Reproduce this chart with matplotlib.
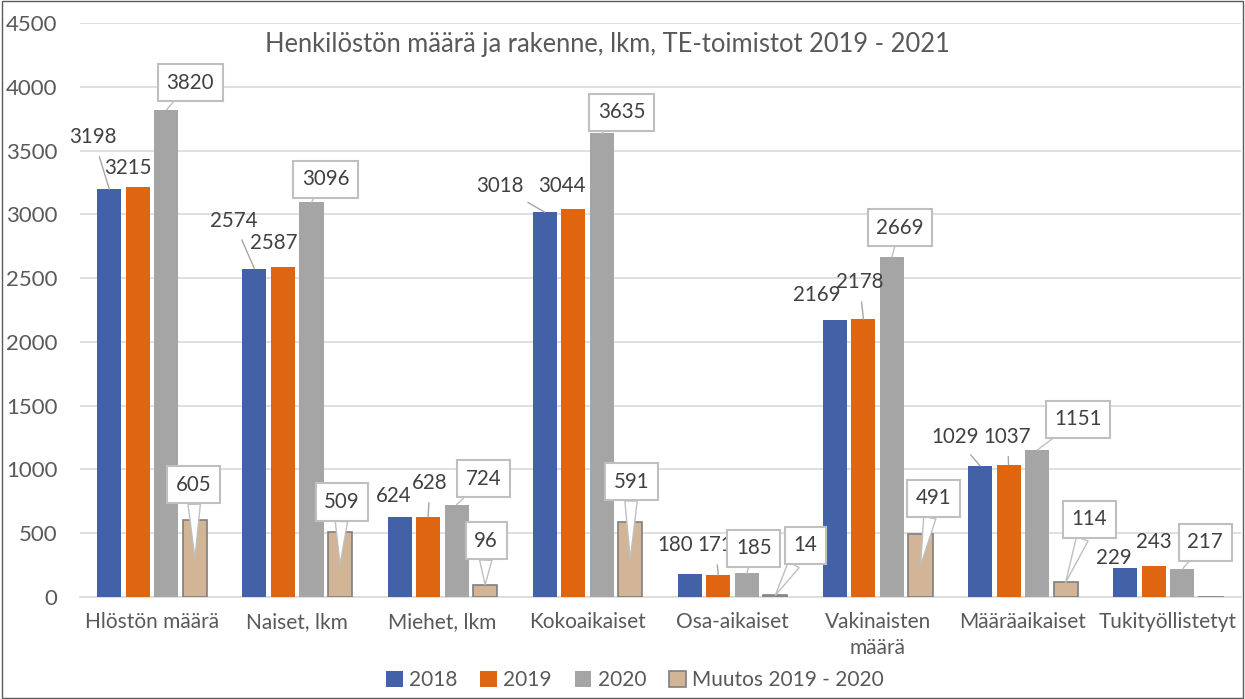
import numpy as np
import matplotlib.pyplot as plt
from matplotlib.patches import Rectangle

plt.rcParams['font.family'] = ['Lato', 'DejaVu Sans']

categories = ['Hlöstön määrä', 'Naiset, lkm', 'Miehet, lkm', 'Kokoaikaiset',
              'Osa-aikaiset', 'Vakinaisten\nmäärä', 'Määräaikaiset', 'Tukityöllistetyt']
v2018 = [3198, 2574, 624, 3018, 180, 2169, 1029, 229]
v2019 = [3215, 2587, 628, 3044, 171, 2178, 1037, 243]
v2020 = [3820, 3096, 724, 3635, 185, 2669, 1151, 217]
muutos = [605, 509, 96, 591, 14, 491, 114, -26]
series_names = ['2018', '2019', '2020', 'Muutos 2019 - 2020']

colors = ['#4361a6', '#df6510', '#a5a5a5', '#d2b496']
edges = ['none', 'none', 'none', '#7f7f7f']
txt = '#404040'

# label offsets in pixels from bar top (dx, dy upward positive)
off18 = [(-16, 52), (-21, 48), (-6, 21), (-45, 26), (-15, 29), (-18, 25), (-25, 29), (-11, 10)]
line18 = [True, True, False, True, False, False, True, False]
off19 = [(-10, 19), (-9, 24), (2, 34), (-11, 23), (-3, 30), (-4, 37), (-1, 28), (0, 24)]
line19 = [False, False, True, False, True, True, True, False]
off20 = [(24, 27), (14, 23), (27, 26), (20, 21), (7, 25), (8, 29), (41, 31), (23, 27)]
offm = [(-1, 35), (2, 30), (1, 44), (1, 40), (30, 50), (13, 36), (24, 63), None]
mid_point = [True, True, False, True, False, True, False, False]

fig = plt.figure(figsize=(12.45, 6.99), dpi=100)
ax = fig.add_axes([0.0639, 0.1459, 0.9325, 0.821])

x = np.arange(len(categories))
pitch = 0.1966
width = 0.166
all_vals = [v2018, v2019, v2020, muutos]
for k, vals in enumerate(all_vals):
    ax.bar(x + (k - 1.5) * pitch, vals, width, color=colors[k], edgecolor=edges[k],
           linewidth=1.2 if k == 3 else 0, label=series_names[k], zorder=3)

ax.set_xlim(-0.5, len(categories) - 0.5)
ax.set_ylim(0, 4500)
ax.set_yticks(np.arange(0, 4501, 500))
ax.grid(axis='y', color='#d9d9d9', linewidth=1.2, zorder=0)
for s in ['left', 'right', 'top']:
    ax.spines[s].set_visible(False)
ax.spines['bottom'].set_color('#d9d9d9')
ax.spines['bottom'].set_linewidth(1.2)
ax.tick_params(axis='both', length=0, labelcolor='#595959')
ax.tick_params(axis='y', pad=16, labelsize=16)
ax.tick_params(axis='x', pad=11, labelsize=15)
ax.set_xticks(x)
ax.set_xticklabels(categories, linespacing=1.35)

to_pt = 72 / 100.0
lab_size = 14.8

def plain(xp, v, off, line):
    ax.annotate(str(v), (xp, v), xytext=(off[0] * to_pt, off[1] * to_pt),
                textcoords='offset points', ha='center', va='center',
                fontsize=lab_size, color=txt, zorder=5,
                arrowprops=dict(arrowstyle='-', color='#a6a6a6', lw=1,
                                shrinkA=5, shrinkB=0) if line else None)

def boxed(xp, v, target, off, wedge):
    ap = dict(arrowstyle='wedge,tail_width=0.6', fc='white', ec='#bfbfbf', lw=1,
              shrinkA=0, shrinkB=0) if wedge else \
         dict(arrowstyle='-', color='#bfbfbf', lw=1, shrinkA=0, shrinkB=0)
    ax.annotate(str(v), (xp, target), xytext=(off[0] * to_pt, off[1] * to_pt),
                textcoords='offset points', ha='center', va='center',
                fontsize=lab_size, color=txt, zorder=6,
                bbox=dict(boxstyle='square,pad=0.42', fc='white', ec='#bfbfbf', lw=1.5),
                arrowprops=ap)

for i in range(len(categories)):
    plain(x[i] - 1.5 * pitch, v2018[i], off18[i], line18[i])
    plain(x[i] - 0.5 * pitch, v2019[i], off19[i], line19[i])
    boxed(x[i] + 0.5 * pitch, v2020[i], v2020[i], off20[i], False)
    if offm[i] is not None:
        v = muutos[i]
        tgt = v / 2 if mid_point[i] else v
        # keep offset relative to the bar top
        dy = offm[i][1] + (v - tgt) * 574 / 4500
        boxed(x[i] + 1.5 * pitch, v, tgt, (offm[i][0], dy), True)

fig.text(0.4875, 0.936, 'Henkilöstön määrä ja rakenne, lkm, TE-toimistot 2019 - 2021',
         ha='center', va='center', fontsize=18.4, color='#595959')

leg = fig.legend(loc='center', bbox_to_anchor=(0.51, 0.027), ncol=4, frameon=False,
                 fontsize=15, handlelength=0.8, handleheight=0.8, handletextpad=0.3,
                 columnspacing=1.1, labelcolor='#595959')

fig.patches.append(Rectangle((0.002, 0.002), 0.996, 0.996, transform=fig.transFigure,
                             fill=False, edgecolor='#595959', linewidth=1))

fig.savefig('out.png', dpi=100)
